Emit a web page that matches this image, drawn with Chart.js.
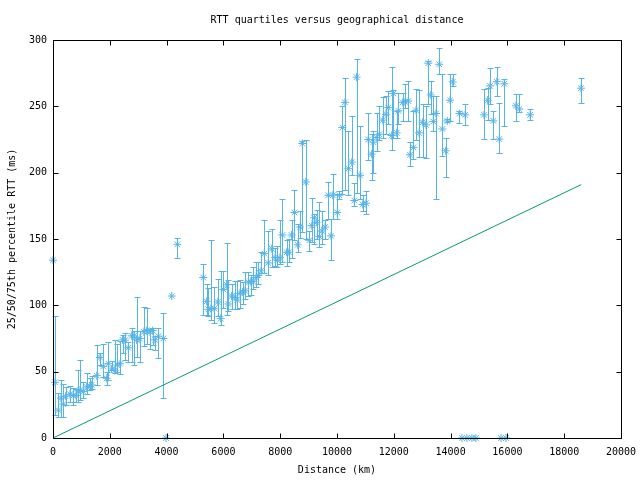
<!DOCTYPE html>
<html>
<head>
<meta charset="utf-8">
<script src="https://cdn.jsdelivr.net/npm/chart.js@4"></script>
<style>
  body { margin: 0; background: #fff; }
  #wrap { width: 640px; height: 480px; }
</style>
</head>
<body>
<div id="wrap"><canvas id="rttChart" width="640" height="480"></canvas></div>
<script>
// distance (km) and 25th / 50th / 75th percentile RTT (ms)
const dist = [0, 70, 190, 280, 365, 445, 600, 715, 810, 890, 950, 1070, 1185, 1300, 1360, 1540, 1655, 1770, 1890, 1950,
  2065, 2180, 2265, 2360, 2450, 2535, 2650, 2770, 2850, 2945, 3060, 3200, 3300, 3415, 3510, 3590, 3710, 3885, 3980, 4180,
  4380, 5290, 5410, 5470, 5560, 5680, 5800, 5905, 6000, 6115, 6175, 6290, 6410, 6490, 6585, 6680, 6760, 6880, 6960, 7050,
  7150, 7230, 7325, 7440, 7580, 7700, 7815, 7900, 7990, 8075, 8230, 8310, 8400, 8500, 8615, 8700, 8780, 8900, 9030, 9110,
  9200, 9285, 9380, 9470, 9580, 9695, 9790, 9850, 10010, 10085, 10190, 10280, 10400, 10520, 10610, 10690, 10810, 10905, 11020, 11100,
  11220, 11280, 11400, 11490, 11610, 11725, 11805, 11925, 11985, 12100, 12160, 12315, 12395, 12510, 12570, 12690, 12780, 12890, 13015, 13130,
  13215, 13300, 13390, 13485, 13600, 13710, 13825, 13885, 13980, 14075, 14310, 14400, 14510, 14575, 14750, 14890, 15175, 15305, 15390, 15505,
  15625, 15715, 15775, 15890, 15950, 16300, 16420, 16800, 18590];
const q25 = [134, 17, 16, 16, 16, 25, 27, 25, 27, 27, 28.5, 30, 33, 36, 37, 40, 55, 46, 40, 44,
  51, 49, 50, 48, 64, 59, 57, 57, 55, 61, 57, 69, 71, 67, 70, 66, 60, 30, 0, 107,
  136, 93, 93, 92, 89, 87, 92, 85, 98, 92.5, 96, 97.5, 97, 97, 98, 101, 105, 107, 108, 112.5,
  114, 116, 124, 124, 123, 129, 130, 129, 131, 132.5, 130, 133, 136, 149, 140, 151, 155, 150, 141, 148,
  146, 150, 144, 146, 150, 165, 134, 165, 165, 180, 184, 187, 183, 198, 175, 185, 180, 171, 169, 209.5,
  194.5, 199.5, 216.5, 225, 226.5, 229, 236.6, 217, 226.5, 226.5, 236.6, 239, 249, 239, 205, 210, 225, 211.5, 211.5, 211,
  251.6, 244, 231.6, 180, 274.7, 212.8, 197, 238, 239, 265.4, 237.8, 0, 236, 0, 0, 0, 225.3, 240, 251.6, 225.3,
  258, 215, 0, 235.3, 0, 239, 246, 240, 252.4];
const q50 = [134, 42, 21, 30, 25.5, 31.5, 33, 32, 32, 35.5, 36, 35, 38.5, 39, 40, 47, 60.7, 54, 45, 56,
  52, 51, 55, 56, 74, 73.7, 68, 77, 77, 74, 75, 80, 81, 80, 81, 74, 76.7, 75, 0, 107,
  146, 121, 103, 97, 97.5, 97.5, 102.5, 90, 112, 115.5, 101, 107, 106, 104, 109, 110, 111, 117.5, 118, 118,
  121, 122.5, 126, 139, 132, 142.6, 136, 134, 136, 153, 140, 140, 153, 170, 145.6, 159, 222, 193, 149, 160,
  166, 162.6, 152, 156, 159, 183, 152.4, 183, 170, 183, 234, 253, 203, 208, 179, 272, 198, 176, 177, 225,
  214, 223, 226.5, 229, 239.6, 244, 249, 228, 259.6, 230, 246.6, 253, 253.4, 254, 213.5, 219, 247, 230, 238, 236,
  282.5, 258.6, 238.6, 244.6, 281.7, 232.9, 216.5, 239, 254.6, 268.4, 244.6, 0, 243.6, 0, 0, 0, 243.6, 254.6, 265.4, 239,
  268.6, 225.3, 0, 267, 0, 250.4, 248, 243.6, 263.7];
const q75 = [134, 92, 34, 44, 41, 38.5, 39, 38, 37, 51, 58.6, 42, 49, 45, 47, 70, 64, 71, 50, 72,
  58, 74, 71, 73, 78, 79, 72, 83, 81, 106, 81, 99, 98, 82, 83, 77, 83, 94, 0, 107,
  151, 131, 116, 113, 149, 114, 120, 126, 126, 147, 119, 116, 118, 118, 119, 117.5, 125, 125, 122.5, 129,
  132.5, 133, 140, 164, 156, 157.6, 143, 145, 164, 180, 149, 150, 164, 187, 161, 171, 224, 225, 156, 181,
  169, 172, 178, 171, 164, 193, 165, 199, 184, 186.5, 250, 271, 231.6, 243, 192, 286, 235, 183, 186.5, 244.6,
  229, 231.6, 245, 250, 257, 258, 261.6, 280, 262, 246.6, 260, 260, 266.7, 269, 222.8, 246.6, 263, 262, 252, 250,
  284, 269, 258, 258, 293.7, 274.7, 226, 240.5, 274, 274, 246.6, 0, 251.6, 0, 0, 0, 263, 264, 279, 246.6,
  280, 252.8, 0, 270.4, 0, 259.6, 259, 248, 271];

// reference line (green)
const lineX = [0, 18600];
const lineY = [0, 191];

const xTicks = { min: 0, max: 20000, step: 2000 };
const yTicks = { min: 0, max: 300, step: 50 };

const blue = '#56b4e9';
const green = '#009e73';
const font = { family: 'DejaVu Sans Mono', size: 10, weight: 'normal' };

Chart.defaults.color = '#000';
Chart.defaults.font = font;

// vertical bars from the 25th to the 75th percentile
const errorBars = {
  id: 'errorBars',
  beforeDatasetsDraw(chart) {
    const { ctx, scales: { x, y } } = chart;
    ctx.save();
    ctx.strokeStyle = blue;
    ctx.lineWidth = 1;
    ctx.beginPath();
    for (let i = 0; i < dist.length; i++) {
      if (q25[i] === q75[i]) continue;
      const px = Math.round(x.getPixelForValue(dist[i])) + 0.5;
      const lo = Math.round(y.getPixelForValue(q25[i])) + 0.5;
      const hi = Math.round(y.getPixelForValue(q75[i])) + 0.5;
      ctx.moveTo(px, lo); ctx.lineTo(px, hi);
      ctx.moveTo(px - 3, lo); ctx.lineTo(px + 3, lo);
      ctx.moveTo(px - 3, hi); ctx.lineTo(px + 3, hi);
    }
    ctx.stroke();
    ctx.restore();
  }
};

// gnuplot style border with inward ticks on all four sides
const frame = {
  id: 'frame',
  afterDraw(chart) {
    const { ctx, chartArea: a, scales: { x, y } } = chart;
    const l = Math.round(a.left) + 0.5, r = Math.round(a.right) + 0.5;
    const t = Math.round(a.top) + 0.5, b = Math.round(a.bottom) + 0.5;
    ctx.save();
    ctx.strokeStyle = '#000';
    ctx.lineWidth = 1;
    ctx.beginPath();
    ctx.rect(l, t, r - l, b - t);
    x.ticks.forEach(tk => {
      const px = Math.round(x.getPixelForValue(tk.value)) + 0.5;
      ctx.moveTo(px, b); ctx.lineTo(px, b - 5);
      ctx.moveTo(px, t); ctx.lineTo(px, t + 5);
    });
    y.ticks.forEach(tk => {
      const py = Math.round(y.getPixelForValue(tk.value)) + 0.5;
      ctx.moveTo(l, py); ctx.lineTo(l + 5, py);
      ctx.moveTo(r, py); ctx.lineTo(r - 5, py);
    });
    ctx.stroke();
    ctx.restore();
  }
};

function drawChart() {
  const medians = dist.map((d, i) => ({ x: d, y: q50[i] }));
  const refLine = lineX.map((d, i) => ({ x: d, y: lineY[i] }));

  const ctx = document.getElementById('rttChart').getContext('2d');
  new Chart(ctx, {
    type: 'scatter',
    data: {
      datasets: [
        {
          type: 'line',
          data: refLine,
          borderColor: green,
          borderWidth: 1,
          pointRadius: 0,
          fill: false
        },
        {
          data: medians,
          clip: false,
          pointStyle: 'star',
          pointRadius: 4,
          borderColor: blue,
          backgroundColor: blue,
          borderWidth: 1
        }
      ]
    },
    options: {
      responsive: false,
      animation: false,
      devicePixelRatio: 1,
      layout: { padding: { left: 0, right: 19, top: 0, bottom: 0 } },
      plugins: {
        legend: { display: false },
        tooltip: { enabled: false },
        title: {
          display: true,
          fullSize: false,
          text: 'RTT quartiles versus geographical distance',
          font: font,
          color: '#000',
          padding: { top: 14, bottom: 14 }
        }
      },
      scales: {
        x: {
          type: 'linear',
          min: xTicks.min,
          max: xTicks.max,
          afterFit: s => { s.height = 42; s.paddingLeft = 0; s.paddingRight = 0; },
          grid: { display: false, drawTicks: false },
          border: { display: false },
          ticks: { stepSize: xTicks.step, padding: 8, maxRotation: 0, callback: v => String(v) },
          title: { display: true, text: 'Distance (km)', padding: { top: 0, bottom: 4 } }
        },
        y: {
          type: 'linear',
          min: yTicks.min,
          max: yTicks.max,
          afterFit: s => { s.width = 53; s.paddingTop = 0; s.paddingBottom = 0; },
          grid: { display: false, drawTicks: false },
          border: { display: false },
          ticks: { stepSize: yTicks.step, padding: 6, callback: v => String(v) },
          title: { display: true, text: '25/50/75th percentile RTT (ms)', padding: { top: 6, bottom: 0 } }
        }
      }
    },
    plugins: [errorBars, frame]
  });
}

document.addEventListener('DOMContentLoaded', drawChart);
</script>
</body>
</html>
